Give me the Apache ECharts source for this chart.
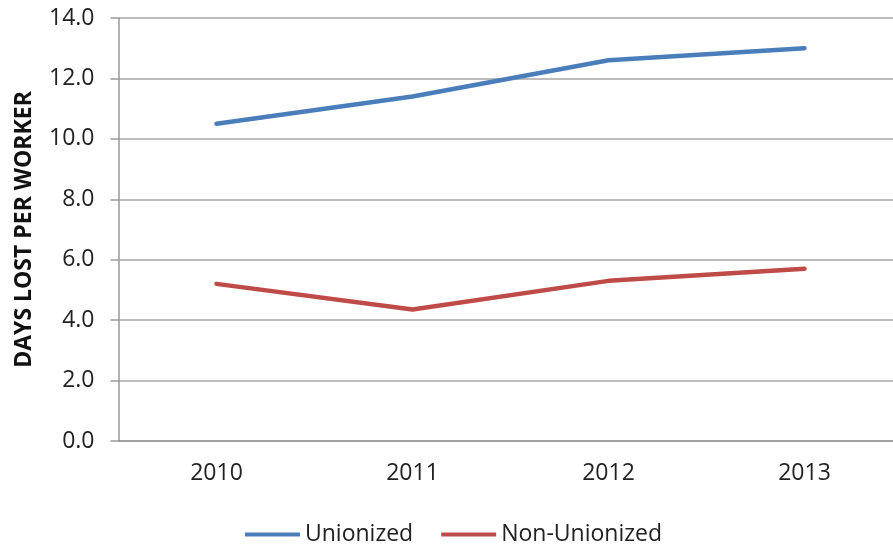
<!DOCTYPE html>
<html>
<head>
<meta charset="utf-8">
<script src="https://cdn.jsdelivr.net/npm/echarts@6/dist/echarts.min.js"></script>
<style>
  html, body { margin: 0; padding: 0; background: #fff; }
  #chart { width: 893px; height: 548px; }
</style>
</head>
<body>
<div id="chart"></div>
<script>
// Days lost per worker, by year
const years = ['2010', '2011', '2012', '2013'];
const unionized = [10.5, 11.4, 12.6, 13.0];
const nonUnionized = [5.2, 4.35, 5.3, 5.7];
const seriesNames = ['Unionized', 'Non-Unionized'];
const yTitle = 'DAYS LOST PER WORKER';

const FONT = '"Open Sans", sans-serif';
const chart = echarts.init(document.getElementById('chart'));

chart.setOption({
  animation: false,
  backgroundColor: '#ffffff',
  // plot area runs slightly past the right edge of the canvas
  grid: { left: 118.5, width: 784, top: 18, height: 423, outerBoundsMode: 'none', containLabel: false },
  legend: {
    bottom: -3,
    left: 240,
    itemWidth: 55,
    itemHeight: 4,
    itemGap: 28,
    icon: 'rect',
    textStyle: { fontFamily: FONT, fontSize: 23, color: '#222' },
    data: seriesNames
  },
  xAxis: {
    type: 'category',
    data: years,
    boundaryGap: true,
    axisLine: { lineStyle: { color: '#999', width: 1.5 } },
    axisTick: { show: false },
    axisLabel: { fontFamily: FONT, fontSize: 23, color: '#222', margin: 21 }
  },
  yAxis: {
    type: 'value',
    min: 0,
    max: 14,
    interval: 2,
    name: yTitle,
    nameLocation: 'middle',
    nameGap: 83,
    nameTextStyle: { fontFamily: FONT, fontSize: 23, fontWeight: 'bold', color: '#111' },
    axisLine: { show: true, lineStyle: { color: '#999', width: 1.5 } },
    axisTick: { show: true, inside: false, length: 8, lineStyle: { color: '#999', width: 1.5 } },
    splitLine: { lineStyle: { color: '#a6a6a6', width: 1.5 } },
    axisLabel: {
      fontFamily: FONT, fontSize: 23, color: '#222', margin: 24,
      formatter: v => v.toFixed(1)
    }
  },
  series: [
    {
      name: seriesNames[0],
      type: 'line',
      data: unionized,
      symbol: 'none',
      lineStyle: { color: '#4A7EBB', width: 4.5, cap: 'round' },
      itemStyle: { color: '#4A7EBB' }
    },
    {
      name: seriesNames[1],
      type: 'line',
      data: nonUnionized,
      symbol: 'none',
      lineStyle: { color: '#BE4B48', width: 4.5, cap: 'round' },
      itemStyle: { color: '#BE4B48' }
    }
  ]
});
</script>
</body>
</html>
